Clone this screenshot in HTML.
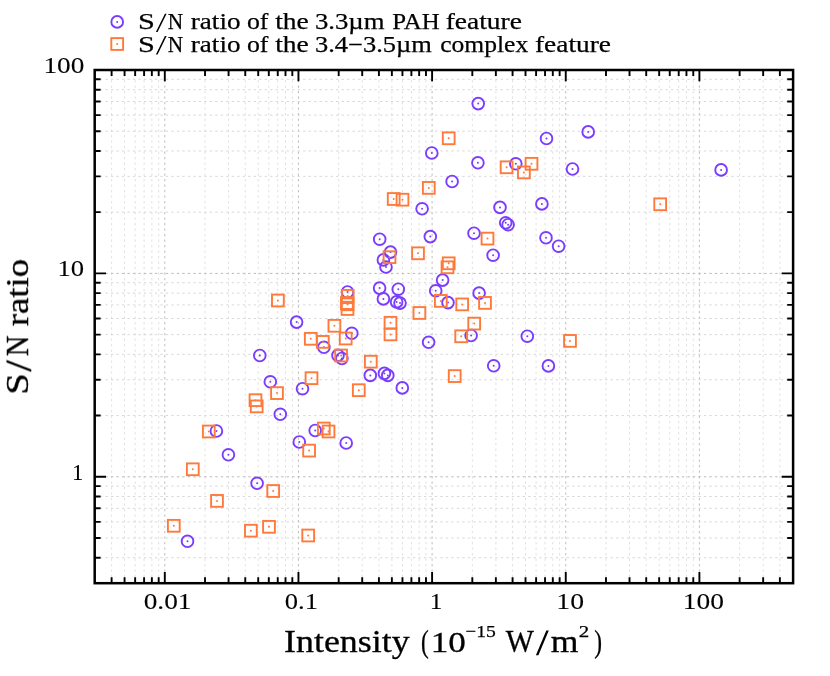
<!DOCTYPE html>
<html><head><meta charset="utf-8"><title>S/N ratio</title>
<style>html,body{margin:0;padding:0;background:#fff;}body{width:830px;height:676px;overflow:hidden;}svg{display:block;}text{font-family:"Liberation Serif",serif;fill:#000;}</style></head><body>
<svg width="830" height="676" viewBox="0 0 830 676">
<rect width="830" height="676" fill="#fff"/>
<path d="M111.62 582.80V70.00M124.57 582.80V70.00M135.15 582.80V70.00M144.10 582.80V70.00M151.85 582.80V70.00M158.68 582.80V70.00M205.03 582.80V70.00M228.57 582.80V70.00M245.27 582.80V70.00M258.22 582.80V70.00M268.80 582.80V70.00M277.75 582.80V70.00M285.50 582.80V70.00M292.33 582.80V70.00M338.68 582.80V70.00M362.22 582.80V70.00M378.92 582.80V70.00M391.87 582.80V70.00M402.45 582.80V70.00M411.40 582.80V70.00M419.15 582.80V70.00M425.98 582.80V70.00M472.33 582.80V70.00M495.87 582.80V70.00M512.57 582.80V70.00M525.52 582.80V70.00M536.10 582.80V70.00M545.05 582.80V70.00M552.80 582.80V70.00M559.63 582.80V70.00M605.98 582.80V70.00M629.52 582.80V70.00M646.22 582.80V70.00M659.17 582.80V70.00M669.75 582.80V70.00M678.70 582.80V70.00M686.45 582.80V70.00M693.28 582.80V70.00M739.63 582.80V70.00M763.17 582.80V70.00M779.87 582.80V70.00" fill="none" stroke="#dcdcdc" stroke-width="0.90" stroke-dasharray="2.3 3.2"/>
<path d="M164.80 582.80V70.00M298.45 582.80V70.00M432.10 582.80V70.00M565.75 582.80V70.00M699.40 582.80V70.00" fill="none" stroke="#bdbdbd" stroke-width="1.00" stroke-dasharray="2.3 3.2"/>
<path d="M94.70 557.74H793.10M94.70 538.03H793.10M94.70 521.92H793.10M94.70 508.31H793.10M94.70 496.51H793.10M94.70 486.11H793.10M94.70 415.57H793.10M94.70 379.75H793.10M94.70 354.34H793.10M94.70 334.63H793.10M94.70 318.52H793.10M94.70 304.91H793.10M94.70 293.11H793.10M94.70 282.71H793.10M94.70 212.17H793.10M94.70 176.35H793.10M94.70 150.94H793.10M94.70 131.23H793.10M94.70 115.12H793.10M94.70 101.51H793.10M94.70 89.71H793.10M94.70 79.31H793.10" fill="none" stroke="#d3d3d3" stroke-width="0.90" stroke-dasharray="2.3 3.19" stroke-dashoffset="0.2"/>
<path d="M94.70 476.80H793.10M94.70 273.40H793.10" fill="none" stroke="#b8b8b8" stroke-width="1.00" stroke-dasharray="2.3 3.19" stroke-dashoffset="0.2"/>
<g fill="none" stroke="#7a3dff" stroke-width="1.90">
<circle cx="478.2" cy="103.6" r="5.85"/>
<circle cx="431.8" cy="153.0" r="5.85"/>
<circle cx="477.9" cy="162.8" r="5.85"/>
<circle cx="515.8" cy="163.8" r="5.85"/>
<circle cx="588.2" cy="131.9" r="5.85"/>
<circle cx="546.5" cy="138.5" r="5.85"/>
<circle cx="572.5" cy="169.0" r="5.85"/>
<circle cx="721.1" cy="169.9" r="5.85"/>
<circle cx="541.9" cy="203.9" r="5.85"/>
<circle cx="546.0" cy="237.8" r="5.85"/>
<circle cx="558.6" cy="246.2" r="5.85"/>
<circle cx="505.7" cy="222.8" r="5.85"/>
<circle cx="508.1" cy="224.7" r="5.85"/>
<circle cx="500.0" cy="207.4" r="5.85"/>
<circle cx="452.1" cy="181.5" r="5.85"/>
<circle cx="422.1" cy="208.8" r="5.85"/>
<circle cx="474.0" cy="233.2" r="5.85"/>
<circle cx="430.3" cy="236.6" r="5.85"/>
<circle cx="379.7" cy="239.2" r="5.85"/>
<circle cx="390.5" cy="252.1" r="5.85"/>
<circle cx="383.4" cy="259.9" r="5.85"/>
<circle cx="386.0" cy="267.0" r="5.85"/>
<circle cx="493.1" cy="255.2" r="5.85"/>
<circle cx="442.6" cy="280.1" r="5.85"/>
<circle cx="435.7" cy="290.8" r="5.85"/>
<circle cx="448.0" cy="302.6" r="5.85"/>
<circle cx="479.1" cy="293.1" r="5.85"/>
<circle cx="471.1" cy="335.5" r="5.85"/>
<circle cx="428.6" cy="342.3" r="5.85"/>
<circle cx="379.6" cy="288.1" r="5.85"/>
<circle cx="398.3" cy="289.2" r="5.85"/>
<circle cx="383.4" cy="298.9" r="5.85"/>
<circle cx="396.6" cy="301.9" r="5.85"/>
<circle cx="400.0" cy="303.1" r="5.85"/>
<circle cx="296.6" cy="322.1" r="5.85"/>
<circle cx="323.9" cy="347.3" r="5.85"/>
<circle cx="351.8" cy="333.3" r="5.85"/>
<circle cx="347.5" cy="292.0" r="5.85"/>
<circle cx="259.8" cy="355.5" r="5.85"/>
<circle cx="338.0" cy="355.4" r="5.85"/>
<circle cx="341.9" cy="358.5" r="5.85"/>
<circle cx="270.3" cy="381.8" r="5.85"/>
<circle cx="280.3" cy="414.3" r="5.85"/>
<circle cx="302.5" cy="388.7" r="5.85"/>
<circle cx="370.3" cy="375.4" r="5.85"/>
<circle cx="384.4" cy="373.4" r="5.85"/>
<circle cx="387.8" cy="375.4" r="5.85"/>
<circle cx="402.3" cy="387.9" r="5.85"/>
<circle cx="315.2" cy="430.5" r="5.85"/>
<circle cx="299.3" cy="442.0" r="5.85"/>
<circle cx="346.2" cy="443.0" r="5.85"/>
<circle cx="493.7" cy="365.8" r="5.85"/>
<circle cx="527.3" cy="336.2" r="5.85"/>
<circle cx="548.4" cy="365.9" r="5.85"/>
<circle cx="216.4" cy="431.0" r="5.85"/>
<circle cx="228.4" cy="454.8" r="5.85"/>
<circle cx="257.1" cy="483.3" r="5.85"/>
<circle cx="187.5" cy="541.3" r="5.85"/>
<circle cx="117.2" cy="21.9" r="5.85"/>
</g><g fill="#7a3dff">
<circle cx="478.2" cy="103.6" r="1.00"/>
<circle cx="431.8" cy="153.0" r="1.00"/>
<circle cx="477.9" cy="162.8" r="1.00"/>
<circle cx="515.8" cy="163.8" r="1.00"/>
<circle cx="588.2" cy="131.9" r="1.00"/>
<circle cx="546.5" cy="138.5" r="1.00"/>
<circle cx="572.5" cy="169.0" r="1.00"/>
<circle cx="721.1" cy="169.9" r="1.00"/>
<circle cx="541.9" cy="203.9" r="1.00"/>
<circle cx="546.0" cy="237.8" r="1.00"/>
<circle cx="558.6" cy="246.2" r="1.00"/>
<circle cx="505.7" cy="222.8" r="1.00"/>
<circle cx="508.1" cy="224.7" r="1.00"/>
<circle cx="500.0" cy="207.4" r="1.00"/>
<circle cx="452.1" cy="181.5" r="1.00"/>
<circle cx="422.1" cy="208.8" r="1.00"/>
<circle cx="474.0" cy="233.2" r="1.00"/>
<circle cx="430.3" cy="236.6" r="1.00"/>
<circle cx="379.7" cy="239.2" r="1.00"/>
<circle cx="390.5" cy="252.1" r="1.00"/>
<circle cx="383.4" cy="259.9" r="1.00"/>
<circle cx="386.0" cy="267.0" r="1.00"/>
<circle cx="493.1" cy="255.2" r="1.00"/>
<circle cx="442.6" cy="280.1" r="1.00"/>
<circle cx="435.7" cy="290.8" r="1.00"/>
<circle cx="448.0" cy="302.6" r="1.00"/>
<circle cx="479.1" cy="293.1" r="1.00"/>
<circle cx="471.1" cy="335.5" r="1.00"/>
<circle cx="428.6" cy="342.3" r="1.00"/>
<circle cx="379.6" cy="288.1" r="1.00"/>
<circle cx="398.3" cy="289.2" r="1.00"/>
<circle cx="383.4" cy="298.9" r="1.00"/>
<circle cx="396.6" cy="301.9" r="1.00"/>
<circle cx="400.0" cy="303.1" r="1.00"/>
<circle cx="296.6" cy="322.1" r="1.00"/>
<circle cx="323.9" cy="347.3" r="1.00"/>
<circle cx="351.8" cy="333.3" r="1.00"/>
<circle cx="347.5" cy="292.0" r="1.00"/>
<circle cx="259.8" cy="355.5" r="1.00"/>
<circle cx="338.0" cy="355.4" r="1.00"/>
<circle cx="341.9" cy="358.5" r="1.00"/>
<circle cx="270.3" cy="381.8" r="1.00"/>
<circle cx="280.3" cy="414.3" r="1.00"/>
<circle cx="302.5" cy="388.7" r="1.00"/>
<circle cx="370.3" cy="375.4" r="1.00"/>
<circle cx="384.4" cy="373.4" r="1.00"/>
<circle cx="387.8" cy="375.4" r="1.00"/>
<circle cx="402.3" cy="387.9" r="1.00"/>
<circle cx="315.2" cy="430.5" r="1.00"/>
<circle cx="299.3" cy="442.0" r="1.00"/>
<circle cx="346.2" cy="443.0" r="1.00"/>
<circle cx="493.7" cy="365.8" r="1.00"/>
<circle cx="527.3" cy="336.2" r="1.00"/>
<circle cx="548.4" cy="365.9" r="1.00"/>
<circle cx="216.4" cy="431.0" r="1.00"/>
<circle cx="228.4" cy="454.8" r="1.00"/>
<circle cx="257.1" cy="483.3" r="1.00"/>
<circle cx="187.5" cy="541.3" r="1.00"/>
<circle cx="117.2" cy="21.9" r="1.00"/>
</g>
<g fill="none" stroke="#ff7a3a" stroke-width="1.90">
<rect x="442.80" y="132.40" width="11.80" height="11.80"/>
<rect x="500.70" y="161.40" width="11.80" height="11.80"/>
<rect x="525.60" y="157.90" width="11.80" height="11.80"/>
<rect x="518.00" y="166.50" width="11.80" height="11.80"/>
<rect x="654.30" y="198.40" width="11.80" height="11.80"/>
<rect x="422.90" y="182.00" width="11.80" height="11.80"/>
<rect x="387.80" y="193.10" width="11.80" height="11.80"/>
<rect x="396.60" y="193.80" width="11.80" height="11.80"/>
<rect x="481.60" y="232.70" width="11.80" height="11.80"/>
<rect x="383.60" y="251.30" width="11.80" height="11.80"/>
<rect x="412.10" y="247.40" width="11.80" height="11.80"/>
<rect x="442.80" y="257.40" width="11.80" height="11.80"/>
<rect x="441.60" y="261.40" width="11.80" height="11.80"/>
<rect x="434.90" y="295.00" width="11.80" height="11.80"/>
<rect x="456.30" y="298.50" width="11.80" height="11.80"/>
<rect x="479.10" y="297.00" width="11.80" height="11.80"/>
<rect x="468.30" y="317.70" width="11.80" height="11.80"/>
<rect x="455.30" y="330.40" width="11.80" height="11.80"/>
<rect x="413.50" y="307.10" width="11.80" height="11.80"/>
<rect x="384.60" y="316.90" width="11.80" height="11.80"/>
<rect x="384.60" y="328.50" width="11.80" height="11.80"/>
<rect x="272.00" y="294.60" width="11.80" height="11.80"/>
<rect x="328.50" y="319.90" width="11.80" height="11.80"/>
<rect x="304.90" y="332.90" width="11.80" height="11.80"/>
<rect x="316.90" y="336.00" width="11.80" height="11.80"/>
<rect x="339.80" y="332.60" width="11.80" height="11.80"/>
<rect x="341.80" y="290.00" width="11.80" height="11.80"/>
<rect x="341.00" y="297.20" width="11.80" height="11.80"/>
<rect x="341.60" y="298.40" width="11.80" height="11.80"/>
<rect x="341.60" y="303.10" width="11.80" height="11.80"/>
<rect x="335.20" y="349.60" width="11.80" height="11.80"/>
<rect x="364.90" y="355.80" width="11.80" height="11.80"/>
<rect x="271.10" y="387.20" width="11.80" height="11.80"/>
<rect x="249.60" y="394.30" width="11.80" height="11.80"/>
<rect x="250.80" y="400.50" width="11.80" height="11.80"/>
<rect x="305.60" y="372.30" width="11.80" height="11.80"/>
<rect x="352.90" y="384.30" width="11.80" height="11.80"/>
<rect x="317.90" y="422.60" width="11.80" height="11.80"/>
<rect x="322.60" y="425.60" width="11.80" height="11.80"/>
<rect x="303.20" y="444.70" width="11.80" height="11.80"/>
<rect x="448.80" y="370.20" width="11.80" height="11.80"/>
<rect x="564.10" y="335.00" width="11.80" height="11.80"/>
<rect x="202.90" y="425.60" width="11.80" height="11.80"/>
<rect x="186.90" y="463.40" width="11.80" height="11.80"/>
<rect x="267.30" y="485.10" width="11.80" height="11.80"/>
<rect x="211.10" y="495.00" width="11.80" height="11.80"/>
<rect x="167.90" y="519.90" width="11.80" height="11.80"/>
<rect x="245.00" y="524.80" width="11.80" height="11.80"/>
<rect x="263.10" y="520.90" width="11.80" height="11.80"/>
<rect x="302.30" y="529.60" width="11.80" height="11.80"/>
<rect x="111.30" y="38.10" width="11.80" height="11.80"/>
</g><g fill="#ff7a3a">
<circle cx="448.7" cy="138.3" r="1.00"/>
<circle cx="506.6" cy="167.3" r="1.00"/>
<circle cx="531.5" cy="163.8" r="1.00"/>
<circle cx="523.9" cy="172.4" r="1.00"/>
<circle cx="660.2" cy="204.3" r="1.00"/>
<circle cx="428.8" cy="187.9" r="1.00"/>
<circle cx="393.7" cy="199.0" r="1.00"/>
<circle cx="402.5" cy="199.7" r="1.00"/>
<circle cx="487.5" cy="238.6" r="1.00"/>
<circle cx="389.5" cy="257.2" r="1.00"/>
<circle cx="418.0" cy="253.3" r="1.00"/>
<circle cx="448.7" cy="263.3" r="1.00"/>
<circle cx="447.5" cy="267.3" r="1.00"/>
<circle cx="440.8" cy="300.9" r="1.00"/>
<circle cx="462.2" cy="304.4" r="1.00"/>
<circle cx="485.0" cy="302.9" r="1.00"/>
<circle cx="474.2" cy="323.6" r="1.00"/>
<circle cx="461.2" cy="336.3" r="1.00"/>
<circle cx="419.4" cy="313.0" r="1.00"/>
<circle cx="390.5" cy="322.8" r="1.00"/>
<circle cx="390.5" cy="334.4" r="1.00"/>
<circle cx="277.9" cy="300.5" r="1.00"/>
<circle cx="334.4" cy="325.8" r="1.00"/>
<circle cx="310.8" cy="338.8" r="1.00"/>
<circle cx="322.8" cy="341.9" r="1.00"/>
<circle cx="345.7" cy="338.5" r="1.00"/>
<circle cx="347.7" cy="295.9" r="1.00"/>
<circle cx="346.9" cy="303.1" r="1.00"/>
<circle cx="347.5" cy="304.3" r="1.00"/>
<circle cx="347.5" cy="309.0" r="1.00"/>
<circle cx="341.1" cy="355.5" r="1.00"/>
<circle cx="370.8" cy="361.7" r="1.00"/>
<circle cx="277.0" cy="393.1" r="1.00"/>
<circle cx="255.5" cy="400.2" r="1.00"/>
<circle cx="256.7" cy="406.4" r="1.00"/>
<circle cx="311.5" cy="378.2" r="1.00"/>
<circle cx="358.8" cy="390.2" r="1.00"/>
<circle cx="323.8" cy="428.5" r="1.00"/>
<circle cx="328.5" cy="431.5" r="1.00"/>
<circle cx="309.1" cy="450.6" r="1.00"/>
<circle cx="454.7" cy="376.1" r="1.00"/>
<circle cx="570.0" cy="340.9" r="1.00"/>
<circle cx="208.8" cy="431.5" r="1.00"/>
<circle cx="192.8" cy="469.3" r="1.00"/>
<circle cx="273.2" cy="491.0" r="1.00"/>
<circle cx="217.0" cy="500.9" r="1.00"/>
<circle cx="173.8" cy="525.8" r="1.00"/>
<circle cx="250.9" cy="530.7" r="1.00"/>
<circle cx="269.0" cy="526.8" r="1.00"/>
<circle cx="308.2" cy="535.5" r="1.00"/>
<circle cx="117.2" cy="44.0" r="1.00"/>
</g>
<path d="M111.62 70.00v5.90M111.62 583.20v-5.90M124.57 70.00v5.90M124.57 583.20v-5.90M135.15 70.00v5.90M135.15 583.20v-5.90M144.10 70.00v5.90M144.10 583.20v-5.90M151.85 70.00v5.90M151.85 583.20v-5.90M158.68 70.00v5.90M158.68 583.20v-5.90M205.03 70.00v5.90M205.03 583.20v-5.90M228.57 70.00v5.90M228.57 583.20v-5.90M245.27 70.00v5.90M245.27 583.20v-5.90M258.22 70.00v5.90M258.22 583.20v-5.90M268.80 70.00v5.90M268.80 583.20v-5.90M277.75 70.00v5.90M277.75 583.20v-5.90M285.50 70.00v5.90M285.50 583.20v-5.90M292.33 70.00v5.90M292.33 583.20v-5.90M338.68 70.00v5.90M338.68 583.20v-5.90M362.22 70.00v5.90M362.22 583.20v-5.90M378.92 70.00v5.90M378.92 583.20v-5.90M391.87 70.00v5.90M391.87 583.20v-5.90M402.45 70.00v5.90M402.45 583.20v-5.90M411.40 70.00v5.90M411.40 583.20v-5.90M419.15 70.00v5.90M419.15 583.20v-5.90M425.98 70.00v5.90M425.98 583.20v-5.90M472.33 70.00v5.90M472.33 583.20v-5.90M495.87 70.00v5.90M495.87 583.20v-5.90M512.57 70.00v5.90M512.57 583.20v-5.90M525.52 70.00v5.90M525.52 583.20v-5.90M536.10 70.00v5.90M536.10 583.20v-5.90M545.05 70.00v5.90M545.05 583.20v-5.90M552.80 70.00v5.90M552.80 583.20v-5.90M559.63 70.00v5.90M559.63 583.20v-5.90M605.98 70.00v5.90M605.98 583.20v-5.90M629.52 70.00v5.90M629.52 583.20v-5.90M646.22 70.00v5.90M646.22 583.20v-5.90M659.17 70.00v5.90M659.17 583.20v-5.90M669.75 70.00v5.90M669.75 583.20v-5.90M678.70 70.00v5.90M678.70 583.20v-5.90M686.45 70.00v5.90M686.45 583.20v-5.90M693.28 70.00v5.90M693.28 583.20v-5.90M739.63 70.00v5.90M739.63 583.20v-5.90M763.17 70.00v5.90M763.17 583.20v-5.90M779.87 70.00v5.90M779.87 583.20v-5.90M164.80 70.00v11.30M164.80 583.20v-11.30M298.45 70.00v11.30M298.45 583.20v-11.30M432.10 70.00v11.30M432.10 583.20v-11.30M565.75 70.00v11.30M565.75 583.20v-11.30M699.40 70.00v11.30M699.40 583.20v-11.30M94.70 557.74h5.90M793.10 557.74h-5.90M94.70 538.03h5.90M793.10 538.03h-5.90M94.70 521.92h5.90M793.10 521.92h-5.90M94.70 508.31h5.90M793.10 508.31h-5.90M94.70 496.51h5.90M793.10 496.51h-5.90M94.70 486.11h5.90M793.10 486.11h-5.90M94.70 415.57h5.90M793.10 415.57h-5.90M94.70 379.75h5.90M793.10 379.75h-5.90M94.70 354.34h5.90M793.10 354.34h-5.90M94.70 334.63h5.90M793.10 334.63h-5.90M94.70 318.52h5.90M793.10 318.52h-5.90M94.70 304.91h5.90M793.10 304.91h-5.90M94.70 293.11h5.90M793.10 293.11h-5.90M94.70 282.71h5.90M793.10 282.71h-5.90M94.70 212.17h5.90M793.10 212.17h-5.90M94.70 176.35h5.90M793.10 176.35h-5.90M94.70 150.94h5.90M793.10 150.94h-5.90M94.70 131.23h5.90M793.10 131.23h-5.90M94.70 115.12h5.90M793.10 115.12h-5.90M94.70 101.51h5.90M793.10 101.51h-5.90M94.70 89.71h5.90M793.10 89.71h-5.90M94.70 79.31h5.90M793.10 79.31h-5.90M94.70 476.80h11.30M793.10 476.80h-11.30M94.70 273.40h11.30M793.10 273.40h-11.30" fill="none" stroke="#000" stroke-width="1.9"/>
<rect x="94.70" y="70.00" width="698.40" height="513.20" fill="none" stroke="#000" stroke-width="2.5"/>
<g opacity="0.999">
<text x="143.73" y="608.60" font-size="22.20" textLength="47.76" lengthAdjust="spacingAndGlyphs" stroke="#000" stroke-width="0.10">0.01</text>
<text x="284.85" y="608.60" font-size="22.20" textLength="33.17" lengthAdjust="spacingAndGlyphs" stroke="#000" stroke-width="0.10">0.1</text>
<text x="429.68" y="608.60" font-size="22.20" textLength="12.60" lengthAdjust="spacingAndGlyphs" stroke="#000" stroke-width="0.10">1</text>
<text x="556.36" y="608.60" font-size="22.20" textLength="27.66" lengthAdjust="spacingAndGlyphs" stroke="#000" stroke-width="0.10">10</text>
<text x="682.88" y="608.60" font-size="22.20" textLength="41.14" lengthAdjust="spacingAndGlyphs" stroke="#000" stroke-width="0.10">100</text>
<text x="43.49" y="73.00" font-size="22.20" textLength="40.92" lengthAdjust="spacingAndGlyphs" stroke="#000" stroke-width="0.10">100</text>
<text x="57.45" y="276.30" font-size="22.20" textLength="26.63" lengthAdjust="spacingAndGlyphs" stroke="#000" stroke-width="0.10">10</text>
<text x="72.01" y="479.80" font-size="22.20" textLength="11.31" lengthAdjust="spacingAndGlyphs" stroke="#000" stroke-width="0.10">1</text>
<text x="284.08" y="652.00" font-size="30.60" textLength="125.56" lengthAdjust="spacingAndGlyphs" stroke="#000" stroke-width="0.30">Intensity</text>
<text x="421.00" y="652.00" font-size="30.60" textLength="7.78" lengthAdjust="spacingAndGlyphs" stroke="#000" stroke-width="0.30">(</text>
<text x="430.69" y="652.00" font-size="29.68" textLength="35.15" lengthAdjust="spacingAndGlyphs" stroke="#000" stroke-width="0.30">10</text>
<text x="505.75" y="652.00" font-size="30.60" textLength="28.14" lengthAdjust="spacingAndGlyphs" stroke="#000" stroke-width="0.30">W</text>
<text x="550.68" y="652.00" font-size="30.60" textLength="27.71" lengthAdjust="spacingAndGlyphs" stroke="#000" stroke-width="0.30">m</text>
<text x="594.19" y="652.00" font-size="30.60" textLength="7.77" lengthAdjust="spacingAndGlyphs" stroke="#000" stroke-width="0.30">)</text>
<text x="465.46" y="637.00" font-size="17.60" textLength="10.62" lengthAdjust="spacingAndGlyphs" stroke="#000" stroke-width="0.25">−</text>
<text x="476.26" y="637.00" font-size="17.60" textLength="19.58" lengthAdjust="spacingAndGlyphs" stroke="#000" stroke-width="0.25">15</text>
<text x="578.73" y="637.00" font-size="17.60" textLength="10.49" lengthAdjust="spacingAndGlyphs" stroke="#000" stroke-width="0.25">2</text>
<polygon points="535.9,655.2 538.4,655.2 548.8,630.6 546.3,630.6" fill="#000"/>
<g transform="translate(28.0 392.5) rotate(-90)">
<polygon points="20.6,3.3 23.1,3.3 32.6,-21.4 30.1,-21.4" fill="#000"/>
<text x="-2.39" y="0.00" font-size="30.60" textLength="21.60" lengthAdjust="spacingAndGlyphs" stroke="#000" stroke-width="0.30">S</text>
<text x="36.21" y="0.00" font-size="30.60" textLength="20.71" lengthAdjust="spacingAndGlyphs" stroke="#000" stroke-width="0.30">N</text>
<text x="66.25" y="0.00" font-size="30.60" textLength="67.29" lengthAdjust="spacingAndGlyphs" stroke="#000" stroke-width="0.30">ratio</text>
</g>
<text x="138.12" y="29.10" font-size="22.60" textLength="16.84" lengthAdjust="spacingAndGlyphs" stroke="#000" stroke-width="0.25">S</text>
<text x="167.72" y="29.10" font-size="22.60" textLength="15.40" lengthAdjust="spacingAndGlyphs" stroke="#000" stroke-width="0.25">N</text>
<text x="190.83" y="29.10" font-size="22.60" textLength="49.64" lengthAdjust="spacingAndGlyphs" stroke="#000" stroke-width="0.25">ratio</text>
<text x="246.97" y="29.10" font-size="22.60" textLength="21.50" lengthAdjust="spacingAndGlyphs" stroke="#000" stroke-width="0.25">of</text>
<text x="275.22" y="29.10" font-size="22.60" textLength="33.60" lengthAdjust="spacingAndGlyphs" stroke="#000" stroke-width="0.25">the</text>
<polygon points="155.9,32.0 157.6,32.0 166.6,13.7 164.9,13.7" fill="#000"/>
<text x="138.12" y="51.50" font-size="22.60" textLength="16.84" lengthAdjust="spacingAndGlyphs" stroke="#000" stroke-width="0.25">S</text>
<text x="167.72" y="51.50" font-size="22.60" textLength="15.40" lengthAdjust="spacingAndGlyphs" stroke="#000" stroke-width="0.25">N</text>
<text x="190.83" y="51.50" font-size="22.60" textLength="49.64" lengthAdjust="spacingAndGlyphs" stroke="#000" stroke-width="0.25">ratio</text>
<text x="246.97" y="51.50" font-size="22.60" textLength="21.50" lengthAdjust="spacingAndGlyphs" stroke="#000" stroke-width="0.25">of</text>
<text x="275.22" y="51.50" font-size="22.60" textLength="33.60" lengthAdjust="spacingAndGlyphs" stroke="#000" stroke-width="0.25">the</text>
<polygon points="155.9,54.4 157.6,54.4 166.6,36.1 164.9,36.1" fill="#000"/>
<text x="314.94" y="29.10" font-size="22.60" textLength="69.64" lengthAdjust="spacingAndGlyphs" stroke="#000" stroke-width="0.25">3.3µm</text>
<text x="392.30" y="29.10" font-size="22.60" textLength="47.46" lengthAdjust="spacingAndGlyphs" stroke="#000" stroke-width="0.25">PAH</text>
<text x="445.71" y="29.10" font-size="22.60" textLength="76.13" lengthAdjust="spacingAndGlyphs" stroke="#000" stroke-width="0.25">feature</text>
<text x="314.95" y="51.50" font-size="22.60" textLength="116.91" lengthAdjust="spacingAndGlyphs" stroke="#000" stroke-width="0.25">3.4−3.5µm</text>
<text x="440.28" y="51.50" font-size="22.60" textLength="87.95" lengthAdjust="spacingAndGlyphs" stroke="#000" stroke-width="0.25">complex</text>
<text x="535.02" y="51.50" font-size="22.60" textLength="75.93" lengthAdjust="spacingAndGlyphs" stroke="#000" stroke-width="0.25">feature</text>
</g>
</svg></body></html>
